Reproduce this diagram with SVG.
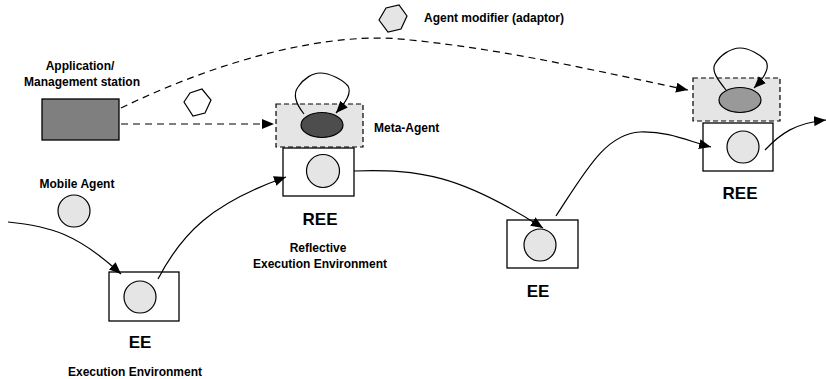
<svg xmlns="http://www.w3.org/2000/svg" width="826" height="379" viewBox="0 0 826 379">
<style>
text{font-family:"Liberation Sans",Arial,sans-serif;font-weight:bold;fill:#000}
.s{font-size:12px}
.b{font-size:17px}
.box{fill:#fff;stroke:#000;stroke-width:1.3}
.ag{fill:#e5e5e5;stroke:#000;stroke-width:1.2}
.meta{fill:#e5e5e5;stroke:#000;stroke-width:1.2;stroke-dasharray:5 3}
.c{fill:none;stroke:#000;stroke-width:1.2}
.d{fill:none;stroke:#000;stroke-width:1.2;stroke-dasharray:7 5}
</style>
<defs>
<marker id="ah" viewBox="0 0 12 10" refX="12" refY="5" markerWidth="12" markerHeight="10" orient="auto" markerUnits="userSpaceOnUse"><path d="M0,0 L12,5 L0,10 z" fill="#000"/></marker>
</defs>

<g id="legend-adaptor">
<polygon points="379,20 386,8 399,5 407,16 401,29 388,32" class="ag"/>
<text class="s" x="424" y="22">Agent modifier (adaptor)</text>
</g>

<g id="station">
<text class="s" x="80" y="70" text-anchor="middle">Application/</text>
<text class="s" x="82" y="86" text-anchor="middle">Management station</text>
<rect x="42" y="99" width="77" height="41" fill="#7f7f7f" stroke="#000" stroke-width="1.3"/>
</g>

<g id="adaptor">
<polygon points="184,102 190,93 202,89 211,100 205,113 193,116" fill="#fff" stroke="#000" stroke-width="1.2"/>
</g>

<g id="mobile-agent">
<text class="s" x="77" y="188" text-anchor="middle">Mobile Agent</text>
<circle cx="74" cy="211" r="16" class="ag"/>
</g>

<g id="meta-agent-1">
<rect x="276" y="104" width="87" height="43" class="meta"/>
<ellipse cx="322" cy="125" rx="21" ry="12.5" fill="#4d4d4d" stroke="#000" stroke-width="1.2"/>
<text class="s" x="374" y="132">Meta-Agent</text>
</g>

<g id="ree-1">
<rect x="283" y="148" width="71" height="48" class="box"/>
<circle cx="323" cy="171" r="16.5" class="ag"/>
<text class="b" x="320" y="225" text-anchor="middle">REE</text>
<text class="s" x="318" y="252" text-anchor="middle">Reflective</text>
<text class="s" x="320" y="268" text-anchor="middle">Execution Environment</text>
</g>

<g id="ee-1">
<rect x="109" y="272" width="70" height="49" class="box"/>
<circle cx="140" cy="297" r="16" class="ag"/>
<text class="b" x="140" y="348" text-anchor="middle">EE</text>
<text class="s" x="135" y="376" text-anchor="middle">Execution Environment</text>
</g>

<g id="ee-2">
<rect x="507" y="220" width="71" height="48" class="box"/>
<circle cx="540" cy="245" r="16" class="ag"/>
<text class="b" x="538" y="297" text-anchor="middle">EE</text>
</g>

<g id="meta-agent-2">
<rect x="693" y="78" width="87" height="43" class="meta"/>
<ellipse cx="740" cy="100" rx="21" ry="12.5" fill="#999" stroke="#000" stroke-width="1.2"/>
</g>

<g id="ree-2">
<rect x="703" y="123" width="70" height="48" class="box"/>
<circle cx="743" cy="147" r="16" class="ag"/>
<text class="b" x="740" y="199" text-anchor="middle">REE</text>
</g>

<g id="connectors">
<path class="c" d="M8 222 C50 226 78 234 121 274" marker-end="url(#ah)"/>
<path class="c" d="M158 279 C182 233 212 203 286 177" marker-end="url(#ah)"/>
<path class="c" d="M354 171 C420 169 460 175 543 228" marker-end="url(#ah)"/>
<path class="c" d="M556 216 C585 172 605 134 640 132 C670 131 690 142 711 147" marker-end="url(#ah)"/>
<path class="c" d="M765 150 C780 134 795 123 826 120" marker-end="url(#ah)"/>
<path class="d" d="M121 108 C220 60 330 30 410 40 C510 50 600 72 688 90" marker-end="url(#ah)"/>
<path class="d" d="M121 124 L274 124" marker-end="url(#ah)"/>
<path class="c" d="M304 114 C296 104 293 94 298 87 C304 78 313 73 320 73 C330 73 343 80 348 86 C352 93 346 102 336 113" marker-end="url(#ah)"/>
<path class="c" d="M726 90 C718 80 711 71 715 64 C720 55 731 48 740 48 C749 48 761 55 766 61 C770 68 764 78 754 88" marker-end="url(#ah)"/>
</g>
</svg>
